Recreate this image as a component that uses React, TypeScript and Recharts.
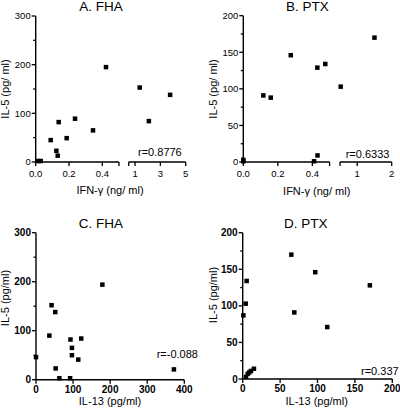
import React from 'react';
import { ScatterChart, Scatter, XAxis, YAxis } from 'recharts';

const FONT = '"Liberation Sans", Arial, Helvetica, sans-serif';

// Panel A: FHA — IFN-γ (ng/ml) vs IL-5 (pg/ml)
const fhaIfn = [0.012, 0.03, 0.09, 0.124, 0.132, 0.138, 0.186, 0.236, 0.344, 0.422, 1.37, 2.09, 3.77];
const fhaIl5A = [2, 2, 45, 23, 13, 82, 49, 89, 65, 195, 153, 84, 138];

// Panel B: PTX — IFN-γ (ng/ml) vs IL-5 (pg/ml)
const ptxIfn = [0, 0, 0.116, 0.159, 0.275, 0.41, 0.429, 0.43, 0.475, 0.52, 1.5];
const ptxIl5B = [3, 1, 91, 88, 146, 1, 129, 9, 134, 103, 170];

// Panel C: FHA — IL-13 (pg/ml) vs IL-5 (pg/ml)
const fhaIl13 = [0, 36, 42, 52, 53, 63, 92, 93, 97, 97, 114, 122, 179, 372];
const fhaIl5C = [46, 90, 152, 138, 23, 3, 3, 82, 65, 50, 41, 84, 194, 21];

// Panel D: PTX — IL-13 (pg/ml) vs IL-5 (pg/ml)
const ptxIl13 = [0.9, 4, 5.3, 4.4, 6.7, 8.8, 11, 15, 65, 69, 97, 113, 170];
const ptxIl5D = [87, 103, 134, 3, 7, 9, 11, 14, 170, 91, 146, 71, 128];

// Ticks
const yTicks300 = [0, 50, 100, 150, 200, 250, 300];
const yMajors300 = [0, 100, 200, 300];
const yTicks200 = [0, 25, 50, 75, 100, 125, 150, 175, 200];
const yMajors200 = [0, 50, 100, 150, 200];
const ifnLowTicks = [0, 0.2, 0.4, 0.5];
const ifnLowLabels = ['0.0', '0.2', '0.4', ''];
const aHighTicks = [0.5, 1, 3, 5];
const aHighLabels = ['', '1', '3', '5'];
const bHighTicks = [0.5, 1, 2];
const bHighLabels = ['', '1', '2'];
const cXTicks = [0, 100, 200, 300, 400];
const dXTicks = [0, 50, 100, 150, 200];

// Break point of the split IFN-γ axis
const IFN_BREAK = 0.5;

const zip = (xs: number[], ys: number[]) => xs.map((x, i) => ({ x, y: ys[i] }));

const aPts = zip(fhaIfn, fhaIl5A);
const bPts = zip(ptxIfn, ptxIl5B);
const cPts = zip(fhaIl13, fhaIl5C);
const dPts = zip(ptxIl13, ptxIl5D);

type TickOpts = {
  ticks: number[];
  labels: (string | null)[];
  majors: number[];
  fontSize: number;
  bold: boolean;
  gap: number;
};

const labelOf = (o: TickOpts, v: number) => {
  const i = o.ticks.indexOf(v);
  if (i < 0) return '';
  return o.labels[i] ?? '';
};

const makeXTick = (o: TickOpts) => (p: any) => {
  const { x, y, payload } = p;
  const v = payload.value;
  const major = o.majors.includes(v);
  const len = major ? 4 : 2.5;
  const lab = labelOf(o, v);
  return (
    <g>
      <line x1={x} y1={y} x2={x} y2={y + len} stroke="#000" strokeWidth={1.3} />
      {lab !== '' && (
        <text x={x} y={y + o.gap} textAnchor="middle" fontSize={o.fontSize} fontWeight={o.bold ? 'bold' : 'normal'} fontFamily={FONT} fill="#000">
          {lab}
        </text>
      )}
    </g>
  );
};

const makeYTick = (o: TickOpts) => (p: any) => {
  const { x, y, payload } = p;
  const v = payload.value;
  const major = o.majors.includes(v);
  const len = major ? 4 : 2.5;
  const lab = labelOf(o, v);
  return (
    <g>
      <line x1={x - len} y1={y} x2={x} y2={y} stroke="#000" strokeWidth={1.3} />
      {lab !== '' && (
        <text x={x - 5} y={y + o.fontSize * 0.36} textAnchor="end" fontSize={o.fontSize} fontWeight={o.bold ? 'bold' : 'normal'} fontFamily={FONT} fill="#000">
          {lab}
        </text>
      )}
    </g>
  );
};

const Square = (p: any) => {
  if (p.cx == null || p.cy == null) return <g />;
  return <rect x={p.cx - 2.25} y={p.cy - 2.25} width={4.5} height={4.5} fill="#000" />;
};

type SegProps = {
  left: number;
  top: number;
  width: number;
  height: number;
  pl: number;
  pr: number;
  pt: number;
  pb: number;
  xDomain: [number, number];
  yDomain: [number, number];
  xOpts: TickOpts;
  yOpts: TickOpts;
  showY: boolean;
  data: { x: number; y: number }[];
};

function Seg(s: SegProps) {
  const axisLine = { stroke: '#000', strokeWidth: 1.4 };
  return (
    <div style={{ position: 'absolute', left: s.left, top: s.top, width: s.width, height: s.height }}>
      <ScatterChart
        width={s.width}
        height={s.height}
        margin={{ top: s.pt - s.top, right: s.left + s.width - s.pr, bottom: 0, left: s.showY ? 0 : s.pl - s.left }}
      >
        <XAxis
          type="number"
          dataKey="x"
          domain={s.xDomain}
          ticks={s.xOpts.ticks}
          interval={0}
          height={s.top + s.height - s.pb}
          tickSize={0}
          tickMargin={0}
          tickLine={false}
          axisLine={axisLine}
          tick={makeXTick(s.xOpts)}
        />
        <YAxis
          type="number"
          dataKey="y"
          domain={s.yDomain}
          ticks={s.yOpts.ticks}
          interval={0}
          width={s.showY ? s.pl - s.left : 0}
          hide={!s.showY}
          tickSize={0}
          tickMargin={0}
          tickLine={false}
          axisLine={axisLine}
          tick={makeYTick(s.yOpts)}
        />
        <Scatter data={s.data} isAnimationActive={false} shape={Square} />
      </ScatterChart>
    </div>
  );
}

const regY300: TickOpts = { ticks: yTicks300, labels: yTicks300.map((v) => (yMajors300.includes(v) ? String(v) : '')), majors: yMajors300, fontSize: 9.5, bold: false, gap: 14.5 };
const regY200: TickOpts = { ticks: yTicks200, labels: yTicks200.map((v) => (yMajors200.includes(v) ? String(v) : '')), majors: yMajors200, fontSize: 9.5, bold: false, gap: 14.5 };
const boldY300: TickOpts = { ...regY300, fontSize: 10, bold: true };
const boldY200: TickOpts = { ...regY200, fontSize: 10, bold: true };

const ifnLowOpts: TickOpts = { ticks: ifnLowTicks, labels: ifnLowLabels, majors: ifnLowTicks, fontSize: 9.5, bold: false, gap: 14.5 };
const aHighOpts: TickOpts = { ticks: aHighTicks, labels: aHighLabels, majors: aHighTicks, fontSize: 9.5, bold: false, gap: 14.5 };
const bHighOpts: TickOpts = { ticks: bHighTicks, labels: bHighLabels, majors: bHighTicks, fontSize: 9.5, bold: false, gap: 14.5 };
const cXOpts: TickOpts = { ticks: cXTicks, labels: cXTicks.map(String), majors: cXTicks, fontSize: 10, bold: true, gap: 13 };
const dXOpts: TickOpts = { ticks: dXTicks, labels: dXTicks.map(String), majors: dXTicks, fontSize: 10, bold: true, gap: 13 };

const titleStyle = { fontFamily: FONT, fontSize: 13.5, fill: '#000' } as const;
const labStyle = { fontFamily: FONT, fontSize: 11, fill: '#000' } as const;

export default function App() {
  const aLow = aPts.filter((p) => p.x <= IFN_BREAK);
  const aHigh = aPts.filter((p) => p.x > IFN_BREAK);
  const bLow = bPts.filter((p) => p.x <= IFN_BREAK);
  const bHigh = bPts.filter((p) => p.x > IFN_BREAK);
  return (
    <div style={{ position: 'absolute', left: 0, top: 0, width: 400, height: 412, background: '#fff', overflow: 'hidden' }}>
      {/* Panel A */}
      <Seg left={0} top={0} width={124} height={185} pl={35.7} pr={119} pt={16} pb={162} xDomain={[0, IFN_BREAK]} yDomain={[0, 300]} xOpts={ifnLowOpts} yOpts={regY300} showY data={aLow} />
      <Seg left={124} top={0} width={76} height={185} pl={128.7} pr={185.7} pt={16} pb={162} xDomain={[IFN_BREAK, 5]} yDomain={[0, 300]} xOpts={aHighOpts} yOpts={regY300} showY={false} data={aHigh} />
      {/* Panel B */}
      <Seg left={200} top={0} width={132} height={185} pl={243.3} pr={329.6} pt={15.7} pb={162} xDomain={[0, IFN_BREAK]} yDomain={[0, 200]} xOpts={ifnLowOpts} yOpts={regY200} showY data={bLow} />
      <Seg left={332} top={0} width={68} height={185} pl={340} pr={391.7} pt={15.7} pb={162} xDomain={[IFN_BREAK, 2]} yDomain={[0, 200]} xOpts={bHighOpts} yOpts={regY200} showY={false} data={bHigh} />
      {/* Panel C */}
      <Seg left={0} top={205} width={200} height={200} pl={36} pr={184.3} pt={232.7} pb={379.7} xDomain={[0, 400]} yDomain={[0, 300]} xOpts={cXOpts} yOpts={boldY300} showY data={cPts} />
      {/* Panel D */}
      <Seg left={200} top={205} width={200} height={200} pl={242.7} pr={392.3} pt={232.7} pb={379} xDomain={[0, 200]} yDomain={[0, 200]} xOpts={dXOpts} yOpts={boldY200} showY data={dPts} />

      <svg width={400} height={412} style={{ position: 'absolute', left: 0, top: 0, pointerEvents: 'none' }}>
        <text x={101} y={10.5} textAnchor="middle" {...titleStyle}>A. FHA</text>
        <text x={307.5} y={10.5} textAnchor="middle" {...titleStyle}>B. PTX</text>
        <text x={101} y={227.7} textAnchor="middle" {...titleStyle}>C. FHA</text>
        <text x={305.8} y={228.3} textAnchor="middle" {...titleStyle}>D. PTX</text>

        <text transform="translate(5,89) rotate(-90)" textAnchor="middle" dominantBaseline="central" {...labStyle}>IL-5 (pg/ ml)</text>
        <text transform="translate(212.5,89) rotate(-90)" textAnchor="middle" dominantBaseline="central" {...labStyle}>IL-5 (pg/ ml)</text>
        <text transform="translate(4.5,298) rotate(-90)" textAnchor="middle" dominantBaseline="central" {...labStyle}>IL-5 (pg/ml)</text>
        <text transform="translate(212.5,295) rotate(-90)" textAnchor="middle" dominantBaseline="central" {...labStyle}>IL-5 (pg/ml)</text>

        <text x={110} y={194} textAnchor="middle" {...labStyle}>IFN-γ (ng/ ml)</text>
        <text x={316.7} y={195} textAnchor="middle" {...labStyle}>IFN-γ (ng/ ml)</text>
        <text x={110} y={405} textAnchor="middle" {...labStyle}>IL-13 (pg/ml)</text>
        <text x={316.7} y={405} textAnchor="middle" {...labStyle}>IL-13 (pg/ml)</text>

        <text x={138} y={156.3} {...labStyle}>r=0.8776</text>
        <text x={345.7} y={158} {...labStyle}>r=0.6333</text>
        <text x={156.7} y={358} {...labStyle}>r=-0.088</text>
        <text x={361} y={374.7} {...labStyle}>r=0.337</text>
      </svg>
    </div>
  );
}
